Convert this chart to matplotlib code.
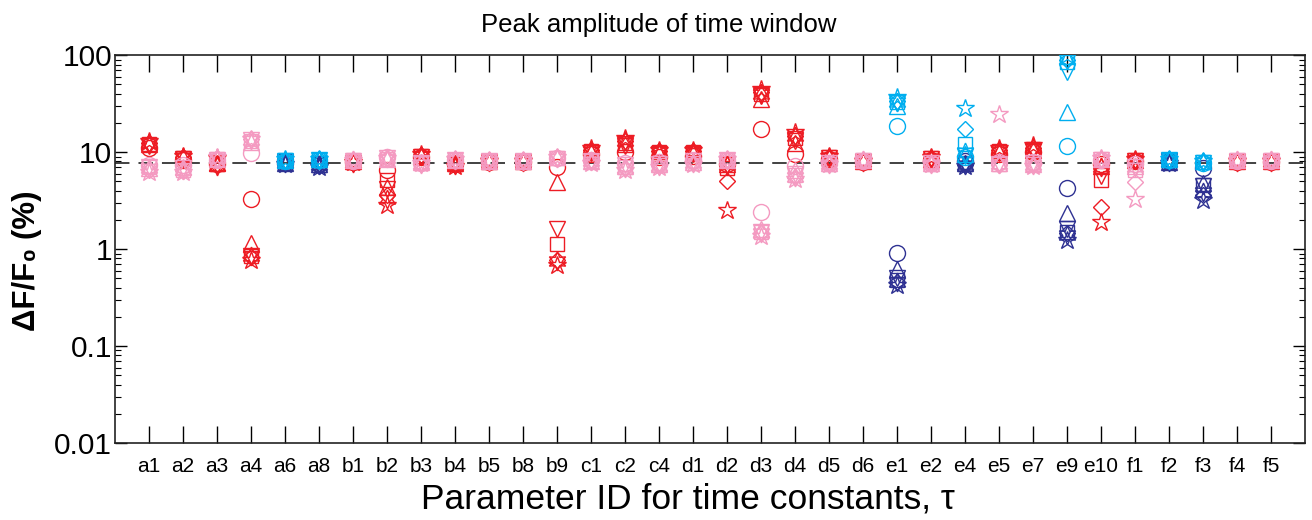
import numpy as np
import matplotlib
matplotlib.use("Agg")
import matplotlib.pyplot as plt

plt.rcParams['font.family'] = ['Liberation Sans', 'DejaVu Sans']

params = ['a1', 'a2', 'a3', 'a4', 'a6', 'a8', 'b1', 'b2', 'b3', 'b4', 'b5', 'b8',
          'b9', 'c1', 'c2', 'c4', 'd1', 'd2', 'd3', 'd4', 'd5', 'd6', 'e1', 'e2',
          'e4', 'e5', 'e7', 'e9', 'e10', 'f1', 'f2', 'f3', 'f4', 'f5']

# colour pair per parameter: r=red, p=pink, c=light blue, b=dark blue
col_1 = ['r', 'r', 'r', 'r', 'c', 'c', 'r', 'r', 'r', 'r', 'r', 'r',
         'r', 'r', 'r', 'r', 'r', 'r', 'r', 'r', 'r', 'r', 'c', 'r',
         'c', 'r', 'r', 'c', 'r', 'r', 'c', 'c', 'r', 'r']
col_2 = ['p', 'p', 'p', 'p', 'b', 'b', 'p', 'p', 'p', 'p', 'p', 'p',
         'p', 'p', 'p', 'p', 'p', 'p', 'p', 'p', 'p', 'p', 'b', 'p',
         'b', 'p', 'p', 'b', 'p', 'p', 'b', 'b', 'p', 'p']

# peak dF/F0 (%) for markers o, ^, v, s, d, pentagram, hexagram
vals_1 = [
    [11.0, 12.0, 11.5, 12.0, 12.5, 13.0, 12.5],
    [8.3, 8.8, 8.5, 8.6, 8.9, 9.2, 8.8],
    [7.6, 7.8, 7.3, 7.5, 7.3, 8.6, 7.2],
    [3.3, 1.15, 0.85, 0.85, 0.83, 0.78, 0.85],
    [8.0, 8.3, 8.0, 8.2, 8.3, 8.4, 8.2],
    [8.2, 8.4, 8.2, 8.3, 8.4, 8.5, 8.3],
    [7.9, 8.0, 7.8, 7.9, 7.8, 7.9, 7.8],
    [6.5, 4.4, 4.2, 5.2, 3.6, 2.85, 3.3],
    [8.8, 9.2, 9.0, 9.1, 9.3, 9.6, 9.2],
    [7.6, 7.8, 7.5, 7.6, 7.3, 7.2, 7.4],
    [7.9, 8.0, 7.9, 8.0, 7.9, 8.0, 7.9],
    [7.9, 8.0, 7.9, 8.0, 7.9, 8.0, 7.9],
    [7.1, 4.9, 1.6, 1.13, 0.78, 0.68, 0.75],
    [9.5, 10.0, 9.8, 10.2, 10.5, 11.0, 10.3],
    [10.0, 12.0, 11.5, 12.5, 13.0, 14.0, 13.0],
    [9.0, 9.8, 9.5, 10.0, 10.2, 10.5, 10.0],
    [9.2, 9.8, 9.6, 10.0, 10.2, 10.5, 10.0],
    [7.6, 7.5, 7.4, 6.8, 5.0, 2.5, 7.3],
    [17.5, 35.0, 38.0, 40.0, 42.0, 45.0, 40.0],
    [9.5, 12.5, 13.0, 14.0, 14.5, 16.0, 14.5],
    [8.5, 8.8, 8.6, 8.9, 9.0, 9.2, 8.9],
    [7.9, 8.0, 7.9, 8.0, 7.9, 8.0, 7.9],
    [18.5, 30.0, 32.0, 33.0, 34.0, 37.0, 33.0],
    [8.3, 8.5, 8.4, 8.6, 8.7, 8.9, 8.6],
    [8.9, 9.5, 9.2, 12.0, 17.5, 28.5, 10.0],
    [9.5, 10.0, 9.8, 10.2, 10.5, 11.0, 10.3],
    [10.0, 10.5, 10.2, 10.8, 11.0, 11.8, 11.0],
    [11.5, 26.0, 67.0, 85.0, 90.0, 100.0, 92.0],
    [7.6, 7.2, 5.7, 5.1, 2.7, 1.9, 7.0],
    [8.0, 8.3, 8.0, 8.2, 8.3, 8.5, 8.2],
    [8.2, 8.4, 8.2, 8.3, 8.4, 8.5, 8.3],
    [7.8, 8.0, 7.7, 7.9, 8.0, 8.1, 7.9],
    [7.9, 8.0, 7.9, 8.0, 7.9, 8.0, 7.9],
    [7.9, 8.0, 7.9, 8.0, 7.9, 8.0, 7.9],
]
vals_2 = [
    [7.3, 6.8, 7.0, 7.0, 6.6, 6.3, 6.8],
    [7.4, 7.0, 6.8, 6.6, 6.4, 6.2, 6.6],
    [8.3, 8.5, 8.3, 8.5, 8.7, 8.8, 8.6],
    [9.7, 12.8, 13.2, 13.0, 13.5, 13.8, 13.3],
    [7.8, 7.8, 7.9, 7.8, 7.7, 7.6, 7.8],
    [7.6, 7.5, 7.5, 7.3, 7.2, 7.1, 7.3],
    [8.1, 8.2, 8.1, 8.2, 8.2, 8.3, 8.2],
    [8.8, 8.4, 8.6, 8.5, 8.6, 8.7, 8.6],
    [7.8, 7.9, 7.7, 7.8, 7.6, 7.7, 7.6],
    [8.2, 8.3, 8.2, 8.3, 8.4, 8.5, 8.3],
    [8.1, 8.1, 8.0, 8.1, 8.2, 8.3, 8.1],
    [8.1, 8.1, 8.0, 8.1, 8.2, 8.3, 8.1],
    [8.6, 8.8, 8.5, 8.7, 8.8, 9.0, 8.7],
    [8.2, 8.0, 8.1, 8.0, 7.9, 7.8, 8.0],
    [7.8, 7.2, 7.4, 7.0, 6.8, 6.5, 6.8],
    [7.9, 7.5, 7.6, 7.3, 7.2, 7.0, 7.2],
    [8.2, 7.9, 8.0, 7.8, 7.7, 7.5, 7.7],
    [8.2, 8.3, 8.2, 8.3, 8.4, 8.5, 8.3],
    [2.4, 1.6, 1.5, 1.5, 1.45, 1.35, 1.45],
    [7.2, 6.5, 6.0, 5.8, 5.6, 5.3, 5.6],
    [7.8, 7.7, 7.8, 7.6, 7.6, 7.5, 7.6],
    [8.1, 8.2, 8.1, 8.2, 8.2, 8.3, 8.2],
    [0.92, 0.62, 0.5, 0.48, 0.46, 0.43, 0.46],
    [7.8, 7.7, 7.8, 7.6, 7.5, 7.5, 7.6],
    [8.0, 7.8, 7.6, 7.5, 7.3, 7.2, 7.4],
    [7.9, 7.7, 7.6, 7.5, 7.4, 24.5, 7.5],
    [7.9, 7.6, 7.7, 7.5, 7.4, 7.2, 7.4],
    [4.3, 2.35, 1.6, 1.5, 1.45, 1.25, 1.4],
    [8.3, 8.4, 8.3, 8.4, 8.5, 8.6, 8.4],
    [7.5, 7.2, 7.0, 6.6, 4.9, 3.25, 7.0],
    [8.0, 7.9, 8.0, 7.9, 7.9, 7.8, 7.9],
    [6.8, 4.8, 4.5, 4.6, 3.6, 3.2, 3.9],
    [8.1, 8.2, 8.1, 8.2, 8.2, 8.3, 8.2],
    [8.1, 8.2, 8.1, 8.2, 8.2, 8.3, 8.2],
]
baseline = 7.76

colors = {'r': '#ED1C24', 'p': '#F49AC1', 'c': '#00AEEF', 'b': '#2E3192'}
layer = {'r': 3, 'p': 4, 'b': 3, 'c': 4}
markers = ['o', '^', 'v', 's', 'D', '*', (6, 1, 0)]
msizes = [11.5, 11.5, 11.5, 10.5, 8.5, 13.5, 13.5]

fig = plt.figure(figsize=(13.12, 5.2), dpi=100)
ax = fig.add_axes([0.0877, 0.148, 0.907, 0.746])

x = np.arange(1, len(params) + 1)
ax.plot([0, len(params) + 1], [baseline, baseline], color='#333333',
        linestyle=(0, (8, 5)), linewidth=1.3, zorder=1)

for i in range(len(params)):
    for vals, cols in [(vals_1, col_1), (vals_2, col_2)]:
        c = cols[i]
        for j in range(7):
            ax.plot(x[i], vals[i][j], marker=markers[j], ms=msizes[j],
                    mfc='none', mec=colors[c], mew=1.0, linestyle='none',
                    zorder=layer[c])

ax.set_yscale('log')
ax.set_ylim(0.01, 100)
ax.set_xlim(0, len(params) + 1)
ax.set_xticks(x)
ax.set_xticklabels(params, fontsize=15)
ax.set_yticks([0.01, 0.1, 1, 10, 100])
ax.set_yticklabels(['0.01', '0.1', '1', '10', '100'], fontsize=21.5)
ax.tick_params(axis='x', which='both', direction='in', top=True, length=12,
               width=1, pad=10)
ax.tick_params(axis='y', which='major', direction='in', right=True, length=8.5,
               width=1, pad=2)
ax.tick_params(axis='y', which='minor', direction='in', right=True, length=4,
               width=0.8)
ax.tick_params(axis='x', which='minor', bottom=False, top=False)
for s in ax.spines.values():
    s.set_linewidth(1.2)
    s.set_color('#222222')

fig.text(0.502, 0.952, 'Peak amplitude of time window', fontsize=18.5,
         ha='center', va='center')
ax.set_xlabel('Parameter ID for time constants, τ', fontsize=25.5)
ax.xaxis.set_label_coords(0.4814, -0.103)
ax.set_ylabel('ΔF/F₀ (%)', fontsize=22.5, fontweight='bold')
ax.yaxis.set_label_coords(-0.0615, 0.47)

fig.savefig('out.png', dpi=100)
